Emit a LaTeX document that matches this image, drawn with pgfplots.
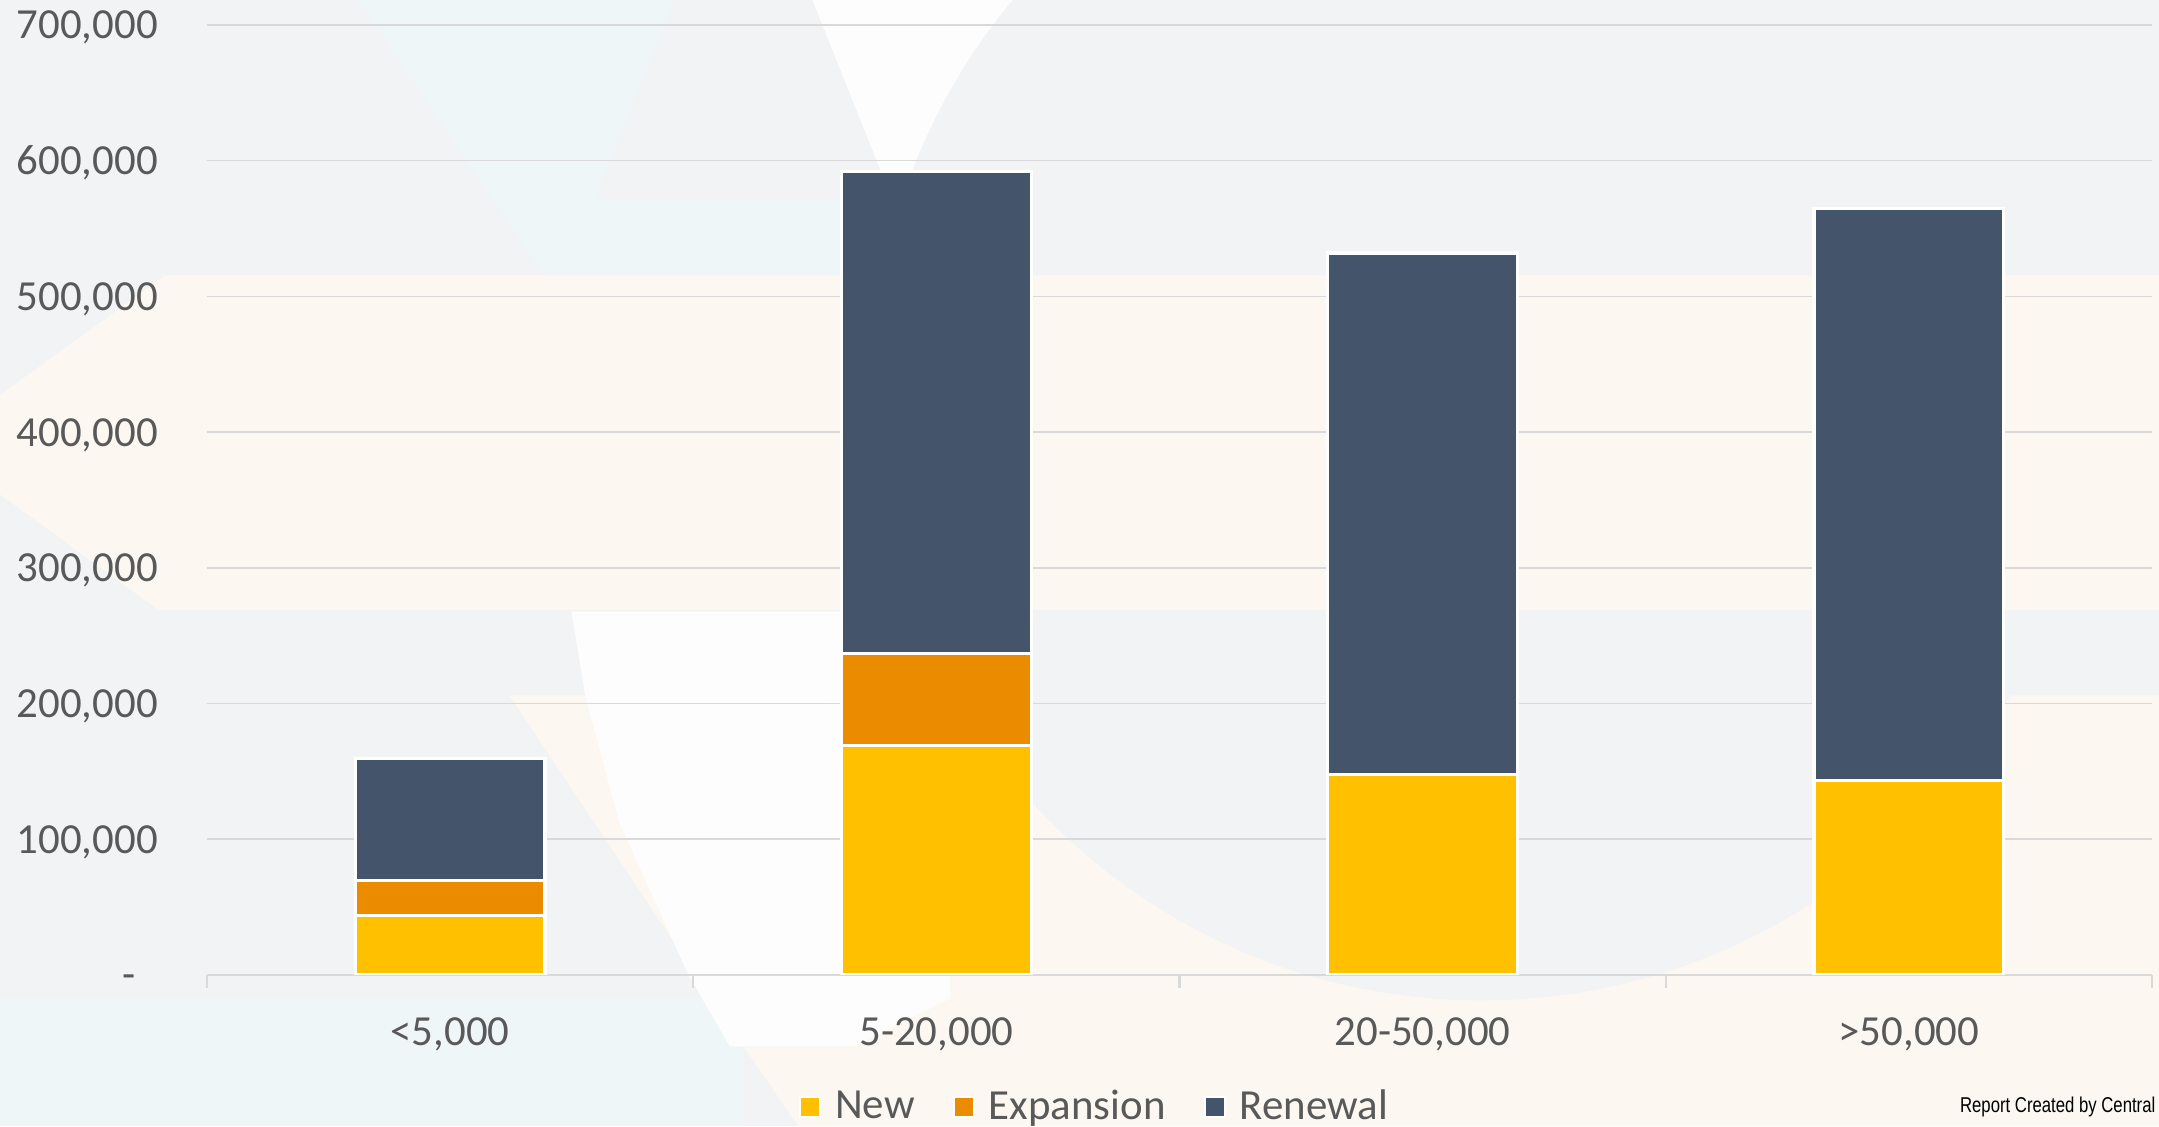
\documentclass[border=0pt]{standalone}
\usepackage{fontspec}
\setmainfont{Carlito}
\newfontfamily\narrowfont[FakeStretch=0.78]{Liberation Sans}
\usepackage{pgfplots}
\pgfplotsset{compat=1.18}
\definecolor{cnew}{HTML}{FFC000}
\definecolor{cexp}{HTML}{EA8B00}
\definecolor{cren}{HTML}{44546A}
\definecolor{ctext}{HTML}{595959}
\definecolor{cgrid}{HTML}{D9D9D9}
\definecolor{bggray}{HTML}{F2F3F5}
\definecolor{bgcream}{HTML}{FCF8F1}
\definecolor{bgblue}{HTML}{EFF6F8}
\definecolor{bgwhite}{HTML}{FDFDFD}
\begin{document}
\begin{tikzpicture}
% decorative background (coordinates in pixels of a 1568x818 view)
\begin{scope}[shift={(-20.7mm,97.5mm)}, x=0.137695mm, y=-0.137695mm]
\fill[bggray] (0,0) rectangle (1568,818);
\fill[bgblue] (260,0) -- (490,0) -- (432,145) -- (610,145) -- (610,200) -- (395,200) -- cycle;
\fill[bgwhite] (590,0) -- (815,0) -- (715,125) -- (640,125) -- cycle;
\fill[bgwhite] (1270,0) -- (1320,0) -- (1300,35) -- cycle;
\fill[bgblue] (0,725) rectangle (540,818);
\fill[bgcream] (370,505) -- (1568,505) -- (1568,818) -- (580,818) -- (540,760) -- cycle;
\fill[bggray] (1076,283.5) circle (443);
\fill[bgwhite] (415,444) -- (690,444) -- (690,725) -- (620,760) -- (530,760) -- (500,708) -- (450,598) -- (425,505) -- cycle;
\fill[bgcream] (120,200) -- (1568,200) -- (1568,443) -- (115,443) -- (0,359) -- (0,287) -- cycle;
\end{scope}
\begin{axis}[
  at={(0,0)}, anchor=south west, scale only axis,
  width=194.5mm, height=95mm,
  ymin=0, ymax=700000, xmin=-0.5, xmax=3.5,
  ybar stacked, bar width=0.39,
  axis x line*=bottom, axis y line*=left,
  y axis line style={draw=none},
  x axis line style={draw=cgrid, line width=0.6pt},
  ytick={0,100000,200000,300000,400000,500000,600000,700000},
  yticklabels={-\hphantom{0},{100,000},{200,000},{300,000},{400,000},{500,000},{600,000},{700,000}},
  scaled y ticks=false,
  ytick style={draw=none},
  xtick={0,1,2,3},
  xticklabels={{<5,000},{5-20,000},{20-50,000},{>50,000}},
  minor xtick={-0.5,0.5,1.5,2.5,3.5},
  major x tick style={draw=none},
  minor x tick style={draw=cgrid, line width=0.6pt},
  minor tick length=1.3mm,
  tick align=outside,
  ymajorgrids, grid style={draw=cgrid, line width=0.45pt},
  tick label style={font=\fontsize{12.2}{15}\selectfont, text=ctext},
  yticklabel style={anchor=base east, inner sep=0pt, xshift=-3.35mm, yshift=-1.4mm},
  xticklabel style={anchor=base, inner sep=0pt, yshift=-5.6mm},
  every axis plot/.append style={draw=white, line width=0.9pt},
  legend style={at={(rel axis cs:0.4594,-0.139)}, anchor=center, legend columns=3,
    draw=none, fill=none, font=\fontsize{12.2}{15}\selectfont, text=ctext,
    /tikz/every even column/.append style={column sep=2.4mm}},
  legend image code/.code={\draw[#1, draw=white, line width=0.6pt] (0mm,-1mm) rectangle (2mm,1mm);},
  legend style={nodes={inner xsep=1.4mm}},
]
\addplot[fill=cnew] coordinates {(0,44000) (1,169000) (2,148000) (3,143500)};
\addplot[fill=cexp] coordinates {(0,25500) (1,68000) (2,0) (3,0)};
\addplot[fill=cren] coordinates {(0,90000) (1,355000) (2,384000) (3,421000)};
\legend{New,Expansion,Renewal}
\end{axis}
\node[anchor=base east, font=\narrowfont\fontsize{6.1}{7}\selectfont, text=black, inner sep=0pt] at (194.9mm,-13.8mm) {Report Created by Central};
\pgfresetboundingbox
\useasboundingbox (-20.7mm,-15.2mm) rectangle (195.2mm,97.5mm);
\end{tikzpicture}
\end{document}
